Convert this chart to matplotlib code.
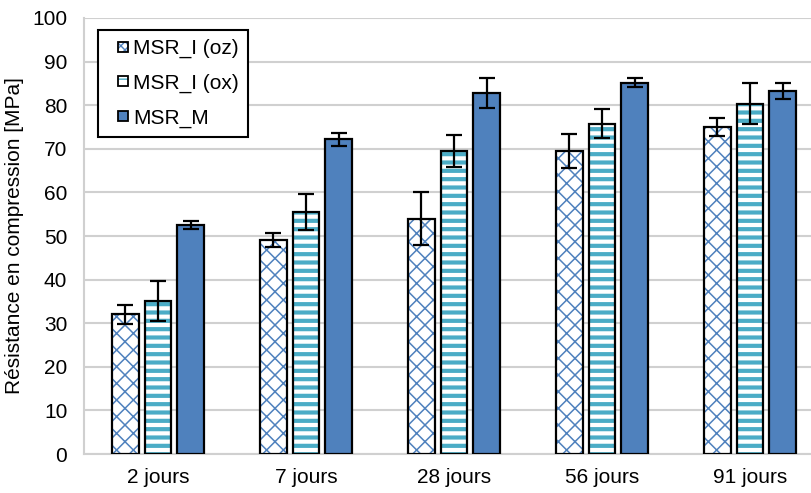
import numpy as np
import matplotlib.pyplot as plt
from matplotlib.patches import Patch, Rectangle
from matplotlib.legend_handler import HandlerTuple, HandlerPatch

plt.rcParams['font.family'] = ['Liberation Sans', 'DejaVu Sans']

# data
ages = ["2 jours", "7 jours", "28 jours", "56 jours", "91 jours"]
series = ["MSR_I (oz)", "MSR_I (ox)", "MSR_M"]
oz_mean = [32.0, 49.0, 54.0, 69.5, 75.0]
oz_err = [2.2, 1.6, 6.0, 4.0, 2.1]
ox_mean = [35.0, 55.5, 69.5, 75.8, 80.3]
ox_err = [4.6, 4.2, 3.6, 3.3, 4.7]
m_mean = [52.5, 72.2, 82.8, 85.2, 83.3]
m_err = [1.0, 1.5, 3.4, 1.0, 1.9]

blue = "#4F81BD"
cyan = "#4BACC6"

fig = plt.figure(figsize=(8.12, 4.93), dpi=100)
ax = fig.add_axes([84 / 812, 39 / 493, 1 - 84 / 812, (454 - 18) / 493])

x = np.arange(len(ages))
w = 0.18
off = 0.22
fs = 15

# MSR_I (oz): white with blue diamond pattern
with plt.rc_context({'hatch.linewidth': 1.1}):
    ax.bar(x - off, oz_mean, w, color="white", edgecolor=blue, hatch="xx", linewidth=0, zorder=2)
    oz_h = Patch(facecolor="white", edgecolor=blue, hatch="xxxx", linewidth=0)
ax.bar(x - off, oz_mean, w, fill=False, edgecolor="black", linewidth=1.6, zorder=3)

# MSR_I (ox): white with cyan horizontal stripes
with plt.rc_context({'hatch.linewidth': 3.0}):
    ax.bar(x, ox_mean, w, color="white", edgecolor=cyan, hatch="--", linewidth=0, zorder=2)
    ox_h = Patch(facecolor="white", edgecolor=cyan, hatch="--", linewidth=0)
ax.bar(x, ox_mean, w, fill=False, edgecolor="black", linewidth=1.6, zorder=3)

# MSR_M: solid blue
ax.bar(x + off, m_mean, w, color=blue, edgecolor="black", linewidth=1.6, zorder=3)

for pos, mean, err in [(x - off, oz_mean, oz_err), (x, ox_mean, ox_err), (x + off, m_mean, m_err)]:
    ax.errorbar(pos, mean, yerr=err, fmt="none", ecolor="black", elinewidth=1.6,
                capsize=5.5, capthick=1.6, zorder=4)

ax.set_ylim(0, 100)
ax.set_xlim(-0.5, 4.5 - 12 / 148)
ax.set_yticks(np.arange(0, 101, 10))
ax.set_xticks(x)
ax.set_xticklabels(ages, fontsize=fs)
ax.tick_params(axis="y", labelsize=fs, length=0, pad=12)
ax.tick_params(axis="x", length=0, pad=10)
ax.yaxis.grid(True, color="#D0D0D0", linewidth=1.5, zorder=0)
ax.set_axisbelow(True)
for s in ["top", "right"]:
    ax.spines[s].set_visible(False)
for s in ["left", "bottom"]:
    ax.spines[s].set_color("#D0D0D0")
    ax.spines[s].set_linewidth(1.5)
ax.set_ylabel("Résistance en compression [MPa]", fontsize=fs, labelpad=6)


def small_square(legend, orig_handle, xdescent, ydescent, width, height, fontsize):
    s = 7.2
    return Rectangle((-xdescent + width - s, -ydescent + (height - s) / 2), s, s)


outline = dict(fill=False, edgecolor="black", linewidth=1.3)
handles = [
    (oz_h, Patch(**outline)),
    (ox_h, Patch(**outline)),
    (Patch(facecolor=blue, edgecolor="black", linewidth=1.3),),
]
leg = ax.legend(handles, series, loc="upper left", bbox_to_anchor=(98 / 812, 1 - 30 / 493),
                bbox_transform=fig.transFigure, fontsize=fs, frameon=True, fancybox=False,
                handler_map={tuple: HandlerTuple(ndivide=1, pad=0),
                             Patch: HandlerPatch(patch_func=small_square)},
                handlelength=1.0, handleheight=0.6, handletextpad=0.25, labelspacing=0.74,
                borderpad=0.44, borderaxespad=0)
leg.get_frame().set_edgecolor("black")
leg.get_frame().set_linewidth(1.5)
leg.get_frame().set_alpha(1)

fig.savefig("out.png", dpi=100)
